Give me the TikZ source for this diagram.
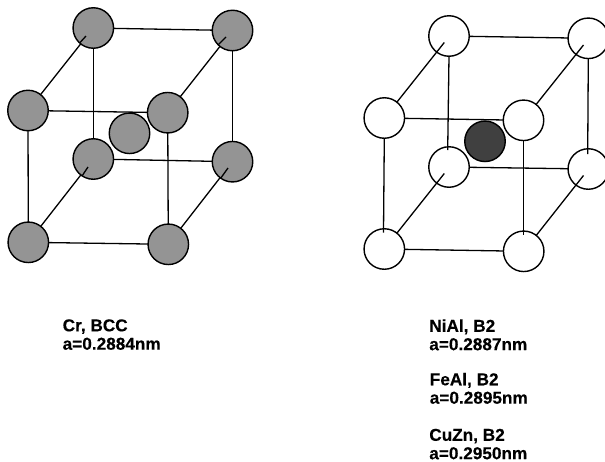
\documentclass[tikz,border=0pt]{standalone}
\usepackage{fontspec}
\setmainfont{Liberation Sans}
\tikzset{
  x=1pt,y=-1pt,
  atom/.style={circle,draw=black,line width=1.4pt,minimum size=40.5pt,inner sep=0pt,outer sep=0pt},
  grayatom/.style={atom,fill=black!42},
  whiteatom/.style={atom,fill=white},
  darkatom/.style={atom,fill=black!75},
  bond/.style={line width=1.3pt,black},
  lbl/.style={anchor=north west,align=left,inner sep=0pt,outer sep=0pt,font=\bfseries\addfontfeatures{FakeBold=0.25}\fontsize{17.2}{18.4}\selectfont}
}
\begin{document}
\begin{tikzpicture}
\clip (0,0) rectangle (605,461);
% left cell
\node[grayatom] (ltbl) at (93.3,28) {};
\node[grayatom] (ltbr) at (232.5,30.5) {};
\node[grayatom] (lfl) at (28,110.5) {};
\node[grayatom] (lfr) at (167.7,112.7) {};
\node[grayatom] (lbbl) at (93.3,159) {};
\node[grayatom] (lbbr) at (232.5,161.7) {};
\node[grayatom] (lbl) at (28.3,242.3) {};
\node[grayatom] (lbr) at (168.3,244.3) {};
\draw[bond] (ltbl) -- (ltbr);
\draw[bond] (lfl) -- (lfr);
\draw[bond] (lbbl) -- (lbbr);
\draw[bond] (lbl) -- (lbr);
\draw[bond] (lfl) -- (lbl);
\draw[bond] (ltbl) -- (lbbl);
\draw[bond] (lfr) -- (lbr);
\draw[bond] (ltbr) -- (lbbr);
\draw[bond] (lfl) -- (ltbl);
\draw[bond] (lfr) -- (ltbr);
\draw[bond] (lbl) -- (lbbl);
\draw[bond] (lbr) -- (lbbr);
\node[grayatom] (lc) at (129.5,133.3) {};
% stubs of the left cell
\coordinate (ls1) at (86,36);
\coordinate (ls2) at (226,37);
\coordinate (ls3) at (88,167);
\coordinate (ls4) at (228,168);
\draw[bond] (ltbl) -- (ls1);
\draw[bond] (ltbr) -- (ls2);
\draw[bond] (lbbl) -- (ls3);
\draw[bond] (lbbr) -- (ls4);
% right cell
\node[whiteatom] (rtbl) at (449,36) {};
\node[whiteatom] (rtbr) at (588.3,38.3) {};
\node[whiteatom] (rfl) at (384.3,118) {};
\node[whiteatom] (rfr) at (523.5,120.3) {};
\node[whiteatom] (rbbl) at (449,167) {};
\node[whiteatom] (rbbr) at (588.3,169) {};
\node[whiteatom] (rbl) at (384.3,249) {};
\node[whiteatom] (rbr) at (523.7,251.3) {};
\coordinate (rs1) at (444.3,42.5);
\coordinate (rs2) at (583.5,45);
\coordinate (rs3) at (444.3,173.5);
\coordinate (rs4) at (583.5,175.5);
\coordinate (rv1) at (447.7,150);
\coordinate (rv2) at (587.7,154);
\coordinate (rv3) at (523.5,235);
\coordinate (rv4) at (383.5,232.5);
\draw[bond] (rtbl) -- (rtbr);
\draw[bond] (rfl) -- (rfr);
\draw[bond] (rbbl) -- (rbbr);
\draw[bond] (rbl) -- (rbr);
\draw[bond] (rfl) -- (rs1);
\draw[bond] (rfr) -- (rs2);
\draw[bond] (rbl) -- (rs3);
\draw[bond] (rbr) -- (rs4);
\draw[bond] (rtbl.south) -- (rv1);
\draw[bond] (rtbr.south) -- (rv2);
\draw[bond] (rfr.south) -- (rv3);
\draw[bond] (rfl.south) -- (rv4);
\node[darkatom] (rc) at (485,141.3) {};
% labels
\node[lbl] (t1) at (62.7,319.3) {Cr, BCC\\a=0.2884nm};
\node[lbl] (t2) at (429.3,319.3) {NiAl, B2\\a=0.2887nm};
\node[lbl] (t3) at (429.8,372.8) {FeAl, B2\\a=0.2895nm};
\node[lbl] (t4) at (429.3,428.8) {CuZn, B2\\a=0.2950nm};
\end{tikzpicture}
\end{document}
